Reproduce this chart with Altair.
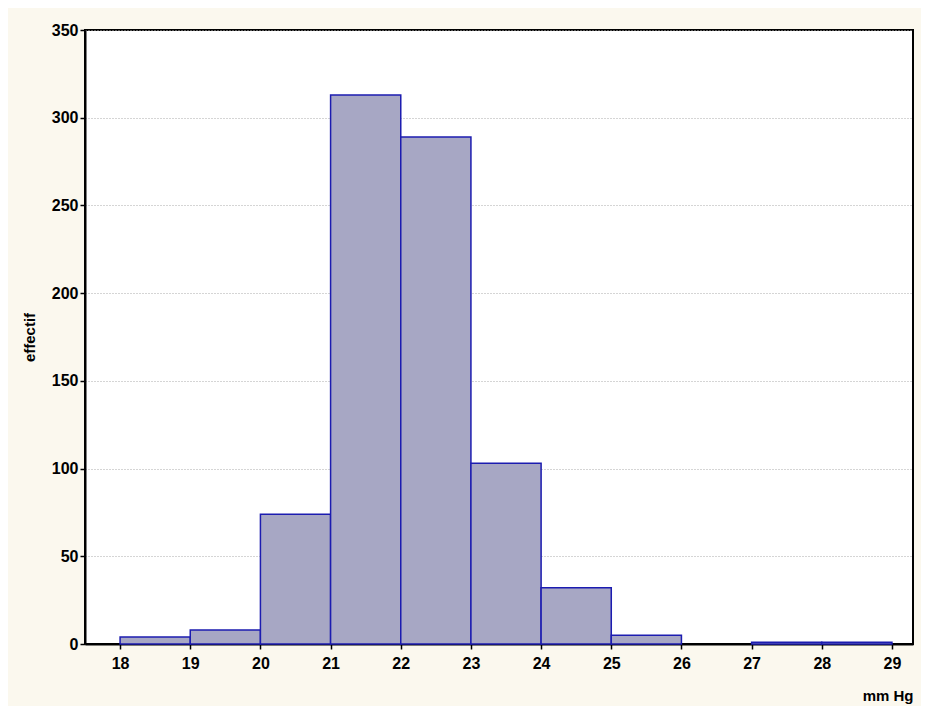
import pandas as pd
import altair as alt

bin_start = [18, 19, 20, 21, 22, 23, 24, 25, 26, 27, 28]
counts = [4, 8, 74, 313, 289, 103, 32, 5, 0, 1, 1]

df = pd.DataFrame({"start": bin_start, "count": counts})
df["end"] = df["start"] + 1
df = df[df["count"] > 0]

font = "Liberation Sans"

bars = alt.Chart(df).mark_rect(
    fill="#a7a7c4", stroke="#1c1cb0", strokeWidth=1.5
).encode(
    x=alt.X("start:Q", title="mm Hg",
            scale=alt.Scale(domain=[17.5, 29.3], nice=False, zero=False),
            axis=alt.Axis(values=list(range(18, 30)), grid=False, format="d",
                          titleAnchor="end", titleAlign="right", titleY=44,
                          labelPadding=6)),
    x2="end:Q",
    y=alt.Y("count:Q", title="effectif",
            scale=alt.Scale(domain=[0, 350], nice=False),
            axis=alt.Axis(values=list(range(0, 351, 50)), grid=True,
                          gridDash=[1, 2], gridColor="#aaaaaa",
                          titlePadding=14)),
    y2=alt.datum(0),
)

chart = bars.properties(width=828, height=614).configure(
    background="#fbf8ee",
    font=font,
).configure_view(
    fill="white", stroke="black", strokeWidth=2,
).configure_axis(
    labelFont=font, titleFont=font, labelFontSize=16, labelFontWeight="bold",
    titleFontSize=15, titleFontWeight="bold", labelColor="black",
    titleColor="black", domainColor="black", domainWidth=2,
    tickColor="black", tickWidth=1.5, tickSize=5,
).properties(padding={"left": 14, "top": 14, "right": 8, "bottom": 10})

chart.save("out.html", embed_options={"renderer": "svg", "actions": False})
